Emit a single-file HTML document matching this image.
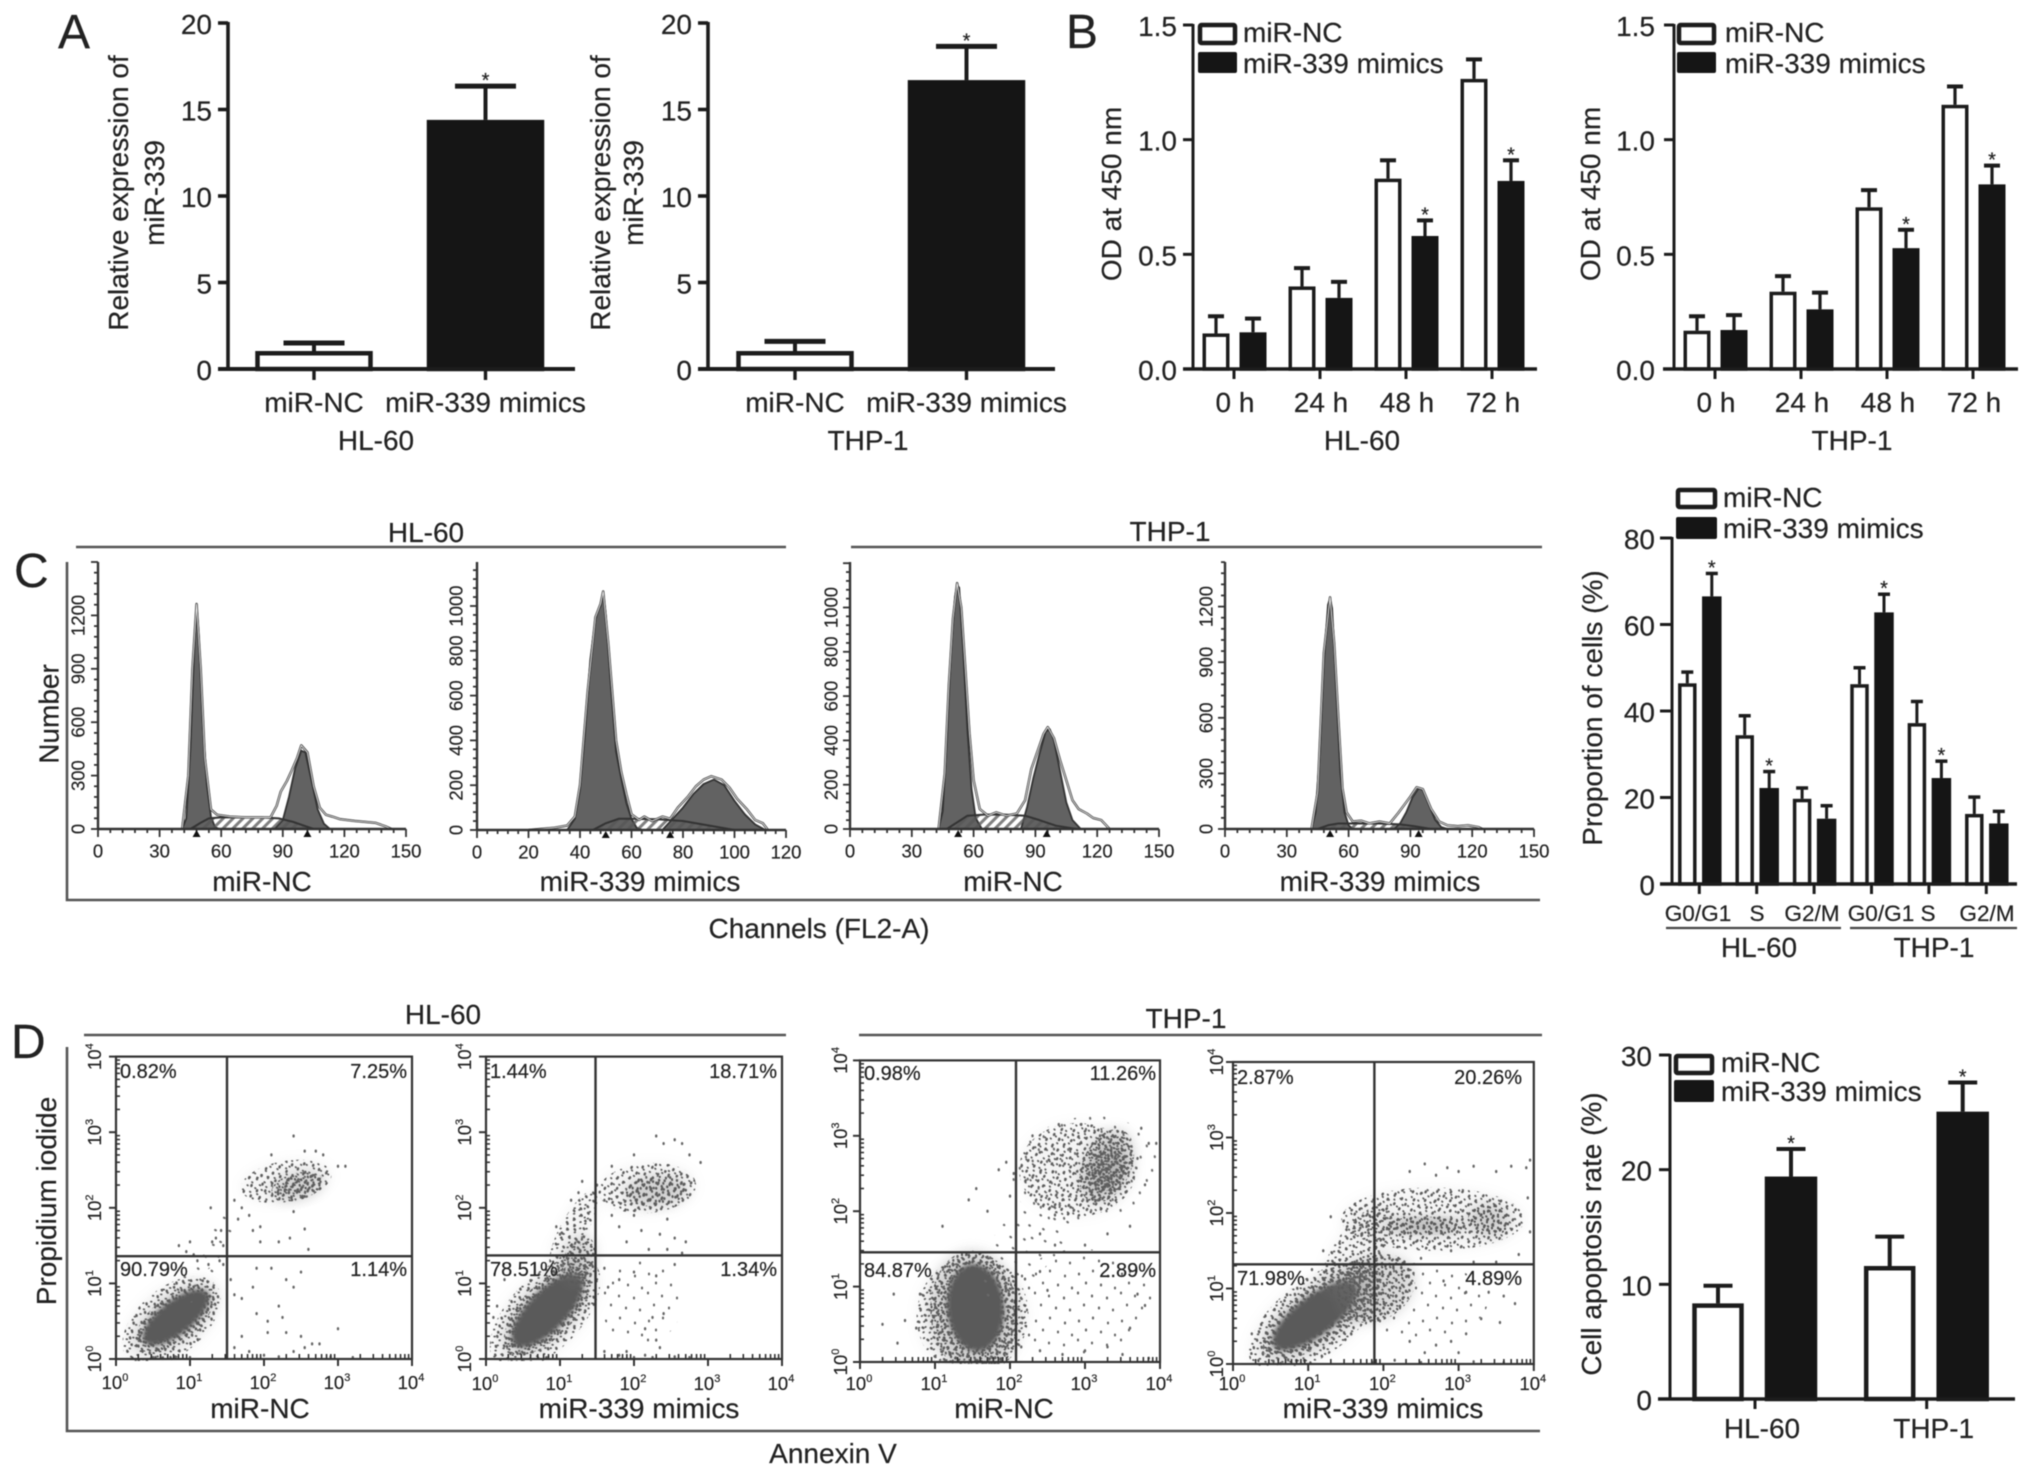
<!DOCTYPE html>
<html lang="en">
<head>
<meta charset="utf-8">
<title>miR-339 mimics in HL-60 and THP-1 cells</title>
<style>
html,body{margin:0;padding:0;background:#fff;}
svg{display:block;font-family:"Liberation Sans",sans-serif;filter:blur(0.6px);}
text{fill:#222;stroke:#222;stroke-width:0.2px;}
</style>
</head>
<body>
<svg id="figure" width="2032" height="1476" viewBox="0 0 2032 1476" xmlns="http://www.w3.org/2000/svg">
<defs>
<pattern id="hatch" width="7" height="7" patternUnits="userSpaceOnUse" patternTransform="rotate(-45)">
<rect x="0" y="0" width="7" height="3" fill="#555" opacity="0.75"/>
</pattern>
<pattern id="speckle" width="37" height="41" patternUnits="userSpaceOnUse">
<g fill="#5a5a5a">
<ellipse cx="2" cy="3" rx="1.1" ry="1.5"/><ellipse cx="9" cy="1" rx="1.1" ry="1.5"/><ellipse cx="15" cy="5" rx="1.1" ry="1.5"/><ellipse cx="23" cy="2" rx="1.1" ry="1.5"/><ellipse cx="30" cy="6" rx="1.1" ry="1.5"/>
<ellipse cx="35" cy="1" rx="1.1" ry="1.5"/><ellipse cx="6" cy="9" rx="1.1" ry="1.5"/><ellipse cx="12" cy="12" rx="1.1" ry="1.5"/><ellipse cx="19" cy="10" rx="1.1" ry="1.5"/><ellipse cx="26" cy="12" rx="1.1" ry="1.5"/>
<ellipse cx="33" cy="13" rx="1.1" ry="1.5"/><ellipse cx="1" cy="16" rx="1.1" ry="1.5"/><ellipse cx="8" cy="18" rx="1.1" ry="1.5"/><ellipse cx="16" cy="17" rx="1.1" ry="1.5"/><ellipse cx="22" cy="19" rx="1.1" ry="1.5"/>
<ellipse cx="29" cy="20" rx="1.1" ry="1.5"/><ellipse cx="35" cy="22" rx="1.1" ry="1.5"/><ellipse cx="4" cy="24" rx="1.1" ry="1.5"/><ellipse cx="11" cy="25" rx="1.1" ry="1.5"/><ellipse cx="18" cy="26" rx="1.1" ry="1.5"/>
<ellipse cx="25" cy="27" rx="1.1" ry="1.5"/><ellipse cx="32" cy="29" rx="1.1" ry="1.5"/><ellipse cx="1" cy="31" rx="1.1" ry="1.5"/><ellipse cx="7" cy="33" rx="1.1" ry="1.5"/><ellipse cx="14" cy="32" rx="1.1" ry="1.5"/>
<ellipse cx="21" cy="34" rx="1.1" ry="1.5"/><ellipse cx="28" cy="35" rx="1.1" ry="1.5"/><ellipse cx="35" cy="36" rx="1.1" ry="1.5"/><ellipse cx="4" cy="38" rx="1.1" ry="1.5"/><ellipse cx="12" cy="39" rx="1.1" ry="1.5"/>
<ellipse cx="18" cy="39" rx="1.1" ry="1.5"/><ellipse cx="25" cy="40" rx="1.1" ry="1.5"/>
</g>
</pattern>
<pattern id="speckle2" href="#speckle" patternTransform="rotate(27) scale(1.13)"></pattern>
<pattern id="speckle3" href="#speckle" patternTransform="rotate(-41) scale(0.87)"></pattern>
<pattern id="sparse" width="43" height="47" patternUnits="userSpaceOnUse">
<g fill="#6a6a6a">
<ellipse cx="4" cy="5" rx="1.1" ry="1.5"/><ellipse cx="18" cy="2" rx="1.1" ry="1.5"/><ellipse cx="33" cy="7" rx="1.1" ry="1.5"/><ellipse cx="11" cy="14" rx="1.1" ry="1.5"/><ellipse cx="26" cy="16" rx="1.1" ry="1.5"/>
<ellipse cx="40" cy="19" rx="1.1" ry="1.5"/><ellipse cx="3" cy="24" rx="1.1" ry="1.5"/><ellipse cx="17" cy="27" rx="1.1" ry="1.5"/><ellipse cx="32" cy="29" rx="1.1" ry="1.5"/><ellipse cx="9" cy="36" rx="1.1" ry="1.5"/>
<ellipse cx="24" cy="39" rx="1.1" ry="1.5"/><ellipse cx="38" cy="41" rx="1.1" ry="1.5"/>
</g>
</pattern>
<filter id="soft" x="-30%" y="-30%" width="160%" height="160%"><feGaussianBlur stdDeviation="2.5"/></filter>
<filter id="wash" x="-30%" y="-30%" width="160%" height="160%"><feGaussianBlur stdDeviation="6"/></filter>
</defs>

<rect x="0" y="0" width="2032" height="1476" fill="#fff"/>

<text x="58" y="48" font-size="48">A</text>
<text x="1066" y="48" font-size="48">B</text>
<text x="14" y="587" font-size="48">C</text>
<text x="11" y="1058" font-size="48">D</text>

<text x="426" y="542" font-size="28" text-anchor="middle">HL-60</text>
<line x1="76" y1="547" x2="786" y2="547" stroke="#555" stroke-width="2.6"/>
<text x="1170" y="541" font-size="28" text-anchor="middle">THP-1</text>
<line x1="851" y1="547" x2="1542" y2="547" stroke="#555" stroke-width="2.6"/>
<path d="M67 562 V900 H1540" fill="none" stroke="#555" stroke-width="2.6"/>
<text transform="translate(58.5 714) rotate(-90)" font-size="28" text-anchor="middle">Number</text>
<text x="819" y="938" font-size="28" text-anchor="middle">Channels (FL2-A)</text>

<text x="443" y="1024" font-size="28" text-anchor="middle">HL-60</text>
<line x1="84" y1="1035" x2="786" y2="1035" stroke="#555" stroke-width="2.6"/>
<text x="1186" y="1028" font-size="28" text-anchor="middle">THP-1</text>
<line x1="859" y1="1035" x2="1542" y2="1035" stroke="#555" stroke-width="2.6"/>
<path d="M67 1047 V1431 H1540" fill="none" stroke="#555" stroke-width="2.6"/>
<text transform="translate(56 1201) rotate(-90)" font-size="28" text-anchor="middle">Propidium iodide</text>
<text x="833" y="1463" font-size="28" text-anchor="middle">Annexin V</text>

<g id="charts"></g>
</svg>

<script>
/* ---------- Panel A data ---------- */
const aCategories = ['miR-NC', 'miR-339 mimics'];
const aTickValues = [0, 5, 10, 15, 20];
const a1Means = [1.04, 14.4];
const a1Errors = [0.46, 1.95];
const a2Means = [1.04, 16.7];
const a2Errors = [0.56, 1.95];

/* ---------- Panel B data ---------- */
const bCategories = ['0 h', '24 h', '48 h', '72 h'];
const bTickValues = [0, 0.5, 1, 1.5];
const bTickLabels = ['0.0', '0.5', '1.0', '1.5'];
const b1ControlMeans = [0.155, 0.36, 0.83, 1.265];
const b1ControlErrors = [0.075, 0.08, 0.08, 0.085];
const b1MimicMeans = [0.16, 0.31, 0.58, 0.82];
const b1MimicErrors = [0.06, 0.07, 0.068, 0.09];
const b1MimicStars = [0, 0, 1, 1];
const b2ControlMeans = [0.167, 0.337, 0.705, 1.152];
const b2ControlErrors = [0.063, 0.068, 0.075, 0.08];
const b2MimicMeans = [0.17, 0.26, 0.527, 0.805];
const b2MimicErrors = [0.065, 0.073, 0.08, 0.082];
const b2MimicStars = [0, 0, 1, 1];

/* ---------- Panel C summary data ---------- */
const cCategories = ['G0/G1', 'S', 'G2/M', 'G0/G1', 'S', 'G2/M'];
const cTickValues = [0, 20, 40, 60, 80];
const cControlMeans = [46.4, 34.4, 19.7, 46.2, 37.2, 16.2];
const cControlErrors = [2.6, 4.5, 2.5, 3.8, 5, 3.9];
const cMimicMeans = [66.5, 22.2, 15.1, 62.8, 24.5, 14];
const cMimicErrors = [5.3, 3.8, 3, 4.2, 3.9, 2.8];
const cMimicStars = [1, 1, 0, 1, 1, 0];

/* ---------- Panel D summary data ---------- */
const dCategories = ['HL-60', 'THP-1'];
const dTickValues = [0, 10, 20, 30];
const dControlMeans = [8.34, 11.6];
const dControlErrors = [1.54, 2.56];
const dMimicMeans = [19.4, 25.06];
const dMimicErrors = [2.4, 2.54];

const legendLabels = ['miR-NC', 'miR-339 mimics'];

/* ---------- Histogram data: [channel, count] ---------- */
const hCh150 = [0, 30, 60, 90, 120, 150];
const hCh120 = [0, 20, 40, 60, 80, 100, 120];
const hCount1200 = [0, 300, 600, 900, 1200];
const hCount1000 = [0, 200, 400, 600, 800, 1000];

const h1G1 = [[41,0],[43,60],[45,450],[47,1050],[48,1264],[49,1100],[51,600],[53,250],[55,70],[57,10],[59,0]];
const h1S = [[45,0],[50,35],[54,60],[60,65],[70,65],[80,65],[88,60],[95,40],[100,20],[105,0]];
const h1G2 = [[86,0],[90,50],[93,180],[96,340],[99,440],[101,430],[104,270],[107,110],[110,30],[113,0]];
const h1Trace = [[41,0],[44,300],[46,900],[48,1264],[50,900],[52,400],[55,110],[58,80],[64,70],[72,65],[84,65],[87,130],[89,210],[92,270],[94,320],[97,400],[99,470],[102,430],[105,240],[108,120],[111,80],[114,70],[118,55],[125,45],[135,35],[140,15],[143,0]];
const h1Markers = [48, 102];

const h2G1 = [[35,0],[38,50],[40,180],[42,440],[44,760],[46,940],[47,980],[48,1000],[49,1065],[50,960],[52,640],[54,350],[56,230],[58,120],[60,50],[62,10],[64,0]];
const h2S = [[45,0],[50,30],[55,50],[60,50],[70,48],[80,40],[90,20],[100,0]];
const h2G2 = [[72,0],[76,50],[80,100],[84,160],[88,205],[92,225],[96,200],[100,130],[104,70],[108,25],[112,0]];
const h2Trace = [[20,0],[30,10],[35,20],[38,60],[40,200],[43,620],[46,950],[48,1010],[49,1065],[51,830],[54,400],[56,260],[58,160],[60,70],[63,45],[65,60],[68,40],[72,60],[75,50],[78,100],[82,150],[85,195],[88,225],[91,240],[95,225],[98,190],[101,140],[105,90],[108,45],[111,30],[113,0]];
const h2Markers = [50, 75];

const h3G1 = [[43,0],[45,80],[47,400],[49,800],[51,1050],[52,1100],[53,1090],[55,800],[57,450],[59,180],[61,50],[64,0]];
const h3S = [[47,0],[52,30],[57,60],[65,65],[75,65],[85,60],[92,40],[100,15],[110,0]];
const h3G2 = [[83,0],[86,100],[89,230],[92,340],[95,440],[97,450],[99,400],[102,260],[105,120],[108,40],[112,0]];
const h3Trace = [[43,0],[46,250],[48,650],[50,950],[52,1110],[54,1000],[56,720],[58,430],[60,220],[63,90],[67,60],[71,75],[76,60],[81,70],[85,130],[88,270],[91,350],[94,430],[96,460],[99,410],[102,310],[105,220],[108,130],[111,90],[115,70],[118,50],[122,40],[124,20],[126,0]];
const h3Markers = [52.5, 95.5];

const h4G1 = [[42,0],[44,90],[46,400],[48,900],[50,1210],[51,1245],[52,1190],[54,750],[56,300],[58,90],[60,20],[62,0]];
const h4S = [[45,0],[50,20],[55,30],[65,30],[75,30],[85,25],[92,15],[100,0]];
const h4G2 = [[82,0],[85,30],[88,90],[91,170],[94,220],[96,210],[99,130],[102,50],[105,10],[108,0]];
const h4Trace = [[42,0],[45,200],[48,950],[51,1250],[53,1000],[55,600],[57,220],[59,90],[62,40],[66,45],[70,30],[75,40],[80,30],[84,85],[87,130],[90,175],[93,225],[96,215],[100,110],[104,40],[108,20],[113,15],[118,20],[123,10],[125,0]];
const h4Markers = [51, 94];

/* ---------- Flow-cytometry data, log10 units ---------- */
const sDecades = [0, 1, 2, 3, 4];

const s1Quadrants = ['0.82%', '7.25%', '90.79%', '1.14%'];
const s1Gate = [1.5, 1.36];
const s1Clusters = [
  [0.75, 0.5, 0.78, 0.44, 40, 'speckle'], [0.8, 0.54, 0.64, 0.3, 38, 'dense'], [0.81, 0.55, 0.54, 0.22, 38, 'core'],
  [1.05, 1.05, 0.35, 0.25, 50, 'sparse'], [1.35, 1.55, 0.45, 0.15, 62, 'sparse'],
  [2.3, 2.35, 0.62, 0.27, 10, 'speckle'], [2.45, 2.28, 0.36, 0.18, 15, 'dense']
];
const s1Points = [[1.0,1.55],[0.85,1.5],[0.95,1.42],[1.05,1.38],[1.1,1.3],[1.25,1.25],[1.3,1.55],[1.35,1.6],[1.42,1.7],[1.45,1.5],[1.4,1.3],[1.45,1.25],[1.28,2.0],[1.6,2.1],[1.65,1.85],[1.7,2.0],[1.8,1.9],[1.85,1.7],[1.95,1.75],[1.95,1.55],[2.2,1.55],[2.35,1.6],[2.55,1.72],[2.6,1.45],[2.4,1.95],[2.4,2.95],[2.55,2.75],[2.7,2.75],[2.8,2.7],[3.0,2.55],[3.1,2.55],[2.1,2.7],[1.55,1.05],[1.6,0.85],[1.7,0.8],[1.85,0.95],[1.9,1.2],[2.1,1.2],[2.2,0.7],[2.3,1.05],[2.4,0.95],[2.5,1.15],[1.9,0.6],[2.05,0.5],[2.05,0.35],[2.3,0.35],[2.25,0.55],[2.5,0.3],[2.75,0.2],[2.65,0.2],[2.4,0.1],[2.55,0.15],[1.7,0.3],[1.6,0.15],[1.8,0.1],[2.0,0.05],[2.2,0.03],[3.0,0.4],[3.2,0.02],[2.9,0.03],[0.5,0.02],[0.8,0.03],[1.0,0.02]];

const s2Quadrants = ['1.44%', '18.71%', '78.51%', '1.34%'];
const s2Gate = [1.48, 1.37];
const s2Clusters = [
  [0.8, 0.6, 0.95, 0.48, 46, 'speckle'], [0.83, 0.64, 0.76, 0.35, 46, 'dense'], [0.83, 0.64, 0.64, 0.26, 46, 'core'],
  [1.18, 1.7, 0.6, 0.18, 62, 'speckle'], [1.25, 1.3, 0.35, 0.2, 70, 'dense'],
  [2.18, 2.26, 0.66, 0.33, 5, 'speckle'], [2.3, 2.22, 0.42, 0.2, 5, 'dense'],
  [2.1, 0.75, 0.55, 0.55, 0, 'sparse']
];
const s2Points = [[0.95,1.75],[1.0,1.65],[1.15,2.1],[1.25,2.2],[1.3,2.35],[1.5,2.3],[1.6,2.1],[1.7,1.9],[1.8,1.75],[1.9,1.55],[2.0,1.9],[2.1,1.7],[2.35,1.65],[2.45,1.85],[2.45,1.45],[2.55,1.6],[2.7,1.55],[2.65,1.4],[2.2,1.45],[2.3,2.95],[2.4,2.85],[2.55,2.9],[2.65,2.85],[2.75,2.7],[2.9,2.6],[1.7,2.55],[2.0,2.7],[1.6,1.2],[1.65,0.95],[1.8,1.05],[2.0,1.15],[2.3,1.1],[2.55,1.25],[2.25,0.55],[2.4,0.6],[2.15,0.4],[2.3,0.25],[2.35,0.15],[2.15,0.05],[1.8,0.05],[1.9,0.1],[1.6,0.1],[2.0,0.02],[2.25,0.02],[2.55,0.03],[2.75,0.02],[0.1,0.55],[0.15,0.7],[0.25,1.05]];

const s3Quadrants = ['0.98%', '11.26%', '84.87%', '2.89%'];
const s3Gate = [2.08, 1.455];
const s3Clusters = [
  [1.5, 0.62, 0.8, 0.74, 80, 'speckle'], [1.52, 0.66, 0.58, 0.82, 4, 'dense'], [1.54, 0.72, 0.38, 0.58, 4, 'core'],
  [3.0, 2.55, 1.0, 0.7, 10, 'sparse'], [2.9, 2.55, 0.78, 0.62, 0, 'speckle'],
  [3.29, 2.6, 0.52, 0.32, 65, 'dense'], [3.3, 2.55, 0.3, 0.22, 65, 'dense'],
  [2.95, 0.8, 0.95, 0.7, 0, 'sparse'], [2.95, 0.78, 0.4, 0.4, 0, 'sparse'],
  [2.2, 1.55, 0.9, 0.4, 50, 'sparse']
];
const s3Points = [[0.3,0.5],[0.5,0.25],[0.6,0.55],[0.45,0.9],[0.8,0.9],[0.75,0.45],[1.1,1.8],[1.3,1.4],[1.45,2.15],[1.55,2.3],[1.7,2.0],[1.85,2.55],[1.95,2.65],[2.05,2.5],[2.0,2.2],[2.3,2.45],[2.3,3.0],[2.65,3.15],[2.95,3.15],[3.2,3.0],[3.35,2.95],[3.5,3.05],[3.75,3.1],[3.85,2.9],[3.7,2.7],[3.8,2.35],[3.95,2.9],[3.6,1.8],[3.3,1.7],[3.0,1.55],[2.6,1.55],[2.4,1.7],[2.6,1.95],[2.2,1.1],[2.4,1.2],[2.5,0.95],[3.6,1.2],[3.7,0.9],[3.8,0.75],[3.6,0.45],[3.3,0.2],[3.0,0.15],[2.7,0.1],[2.4,0.15],[2.15,0.2],[3.5,0.1],[3.85,0.05]];

const s4Quadrants = ['2.87%', '20.26%', '71.98%', '4.89%'];
const s4Gate = [1.88, 1.32];
const s4Clusters = [
  [1.1, 0.62, 1.05, 0.5, 37, 'speckle'], [1.12, 0.64, 0.86, 0.36, 37, 'dense'], [1.09, 0.64, 0.68, 0.26, 37, 'core'],
  [2.66, 1.92, 1.22, 0.42, 0, 'speckle'], [1.65, 1.5, 0.7, 0.3, 55, 'speckle'],
  [2.55, 1.83, 0.55, 0.12, 0, 'dense'], [2.55, 1.83, 0.4, 0.08, 0, 'dense'],
  [3.4, 1.9, 0.28, 0.22, 0, 'dense'],
  [2.44, 0.84, 0.95, 0.5, 0, 'sparse'], [1.9, 1.0, 0.55, 0.42, 30, 'dense']
];
const s4Points = [[2.35,2.55],[2.55,2.65],[2.7,2.5],[2.85,2.6],[3.0,2.55],[3.2,2.62],[3.5,2.55],[3.7,2.62],[3.9,2.6],[3.95,2.7],[3.92,2.2],[3.95,1.75],[3.8,1.45],[3.5,1.35],[3.2,1.35],[2.9,1.5],[2.5,1.4],[2.2,1.4],[1.3,1.95],[1.2,1.5],[1.05,1.25],[2.4,1.2],[2.8,1.1],[3.1,0.95],[3.4,0.95],[3.6,0.9],[3.75,0.8],[3.3,0.6],[3.55,0.55],[3.1,0.4],[2.9,0.3],[2.7,0.25],[2.55,0.15],[2.35,0.3],[3.0,0.15],[2.15,0.05],[1.85,0.02],[2.5,0.02],[3.2,0.03],[3.6,0.02],[0.25,0.4],[0.4,0.15]];

/* ---------- Helpers ---------- */
const SVGNS = 'http://www.w3.org/2000/svg';
const root = document.getElementById('charts');
const INK = '#1c1c1c';
const BAR = '#151515';
const AXIS_FS = 28;

function node(parent, tag, name, attrs) {
  const n = document.createElementNS(SVGNS, tag);
  
  
  for (const k in attrs) n.setAttribute(k, attrs[k]);
  parent.appendChild(n);
  return n;
}
function group(parent, name) { return node(parent, 'g', name, {}); }
function seg(parent, name, x1, y1, x2, y2, sw, color) {
  return node(parent, 'line', name, {x1: x1, y1: y1, x2: x2, y2: y2, stroke: color || INK, 'stroke-width': sw});
}
function label(parent, name, str, cx, cy, fs, anchor) {
  const t = node(parent, 'text', name, {x: cx, y: cy + 0.36 * fs, 'font-size': fs, 'text-anchor': anchor || 'middle'});
  t.textContent = str;
  return t;
}
function vlabel(parent, name, str, cx, cy, fs) {
  const t = node(parent, 'text', name, {transform: 'translate(' + (cx + 0.36 * fs) + ' ' + cy + ') rotate(-90)', 'font-size': fs, 'text-anchor': 'middle'});
  t.textContent = str;
  return t;
}
function linearY(y0, yTop, max) { return function (v) { return y0 - (v / max) * (y0 - yTop); }; }
function bandX(first, step) { return function (i) { return first + i * step; }; }

function yAxis(g, yS, values, labels, o) {
  const top = yS(values[values.length - 1]);
  seg(g, 'y-axis-line', o.x, top - 1, o.x, yS(0), o.sw);
  values.forEach(function (v, i) {
    seg(g, 'y-tick', o.x - o.len, yS(v), o.x, yS(v), o.sw);
    label(g, 'y-tick-label', labels ? labels[i] : String(v), o.labelRight, yS(v) + 1, AXIS_FS, 'end');
  });
}
function xAxis(g, y0, from, to, ticks, sw, len) {
  seg(g, 'x-axis-line', from, y0, to, y0, sw + 0.5);
  ticks.forEach(function (x) { seg(g, 'x-tick', x, y0, x, y0 + len, sw); });
}
function bar(g, name, cx, w, mean, err, filled, star, yS, st) {
  const top = yS(mean), y0 = yS(0), e = yS(mean + err);
  seg(g, name + '-error-stem', cx, top, cx, e, st.stem);
  seg(g, name + '-error-cap', cx - st.cap / 2, e, cx + st.cap / 2, e, st.capSw);
  const inset = st.sw / 2;
  node(g, 'rect', name, {x: cx - w / 2, y: top + inset, width: w, height: Math.max(0, y0 - top - inset), fill: filled ? BAR : '#fff', stroke: filled ? BAR : INK, 'stroke-width': st.sw});
  if (star) {
    const s = node(g, 'text', name + '-significance', {x: cx, y: e + 1, 'font-size': 20, 'text-anchor': 'middle'});
    s.textContent = '*';
  }
}
function legend(g, xBoxL, xBoxR, yA, yB, yC, yD, textX, yT1, yT2) {
  node(g, 'rect', 'legend-swatch-mir-nc', {x: xBoxL + 2, y: yA + 2, width: xBoxR - xBoxL - 4, height: yB - yA - 4, rx: 1.5, fill: '#fff', stroke: INK, 'stroke-width': 4.5});
  node(g, 'rect', 'legend-swatch-mir-339', {x: xBoxL, y: yC, width: xBoxR - xBoxL, height: yD - yC, rx: 2, fill: BAR});
  label(g, 'legend-label-mir-nc', legendLabels[0], textX, yT1, AXIS_FS, 'start');
  label(g, 'legend-label-mir-339', legendLabels[1], textX, yT2, AXIS_FS, 'start');
}

/* ---------- Panel A ---------- */
function drawA(name, means, errors, axisX, firstTick, xEnd, labelRight, t1, t2, caption, captionX) {
  const g = group(root, name);
  const yS = linearY(369, 23, 20);
  const xS = bandX(firstTick, 171.5);
  const st = {stem: 4, cap: 61, capSw: 5, sw: 4.5};
  means.forEach(function (m, i) {
    bar(g, 'bar-' + aCategories[i].replace(/ /g, '-').toLowerCase(), xS(i), 113, m, errors[i], i === 1, i === 1, yS, st);
  });
  yAxis(g, yS, aTickValues, null, {x: axisX, sw: 3.6, len: 10, labelRight: labelRight});
  xAxis(g, 369, axisX - 10, xEnd, [xS(0), xS(1)], 3.4, 11);
  aCategories.forEach(function (c, i) { label(g, 'x-tick-label', c, xS(i), 402, AXIS_FS); });
  label(g, 'x-axis-title', caption, captionX, 440, AXIS_FS);
  vlabel(g, 'y-axis-title', 'Relative expression of', t1, 193, 28);
  vlabel(g, 'y-axis-title-line-2', 'miR-339', t2, 193, 28);
}
drawA('chart-a-hl60', a1Means, a1Errors, 228, 314, 575, 212, 118, 154, 'HL-60', 376);
drawA('chart-a-thp1', a2Means, a2Errors, 708, 795, 1055, 692, 600, 633, 'THP-1', 868);

/* ---------- Panel B ---------- */
function drawB(name, ctrl, ctrlE, mim, mimE, stars, axisX, firstTick, xA, xB, labelRight, titleX, boxL, boxR, textX, caption, captionX) {
  const g = group(root, name);
  const yS = linearY(369, 25, 1.5);
  const xS = bandX(firstTick, 86);
  const st = {stem: 3.2, cap: 16, capSw: 4, sw: 3.5};
  bCategories.forEach(function (c, i) {
    bar(g, 'bar-mir-nc-' + i, xS(i) - 18, 23.5, ctrl[i], ctrlE[i], false, false, yS, st);
    bar(g, 'bar-mir-339-' + i, xS(i) + 19, 23.5, mim[i], mimE[i], true, stars[i] === 1, yS, st);
    label(g, 'x-tick-label', c, xS(i) + 1, 402, AXIS_FS);
  });
  yAxis(g, yS, bTickValues, bTickLabels, {x: axisX, sw: 3, len: 10, labelRight: labelRight});
  xAxis(g, 369, xA, xB, bCategories.map(function (c, i) { return xS(i); }), 3, 10);
  legend(g, boxL, boxR, 23, 45, 52, 73, textX, 32, 63);
  label(g, 'x-axis-title', caption, captionX, 440, AXIS_FS);
  vlabel(g, 'y-axis-title', 'OD at 450 nm', titleX, 194, 28);
}
drawB('chart-b-hl60', b1ControlMeans, b1ControlErrors, b1MimicMeans, b1MimicErrors, b1MimicStars, 1193, 1234, 1183, 1537, 1177, 1111, 1198, 1237, 1243, 'HL-60', 1362);
drawB('chart-b-thp1', b2ControlMeans, b2ControlErrors, b2MimicMeans, b2MimicErrors, b2MimicStars, 1674, 1715, 1663, 2018, 1655, 1590, 1677, 1716, 1725, 'THP-1', 1852);

/* ---------- Panel C summary ---------- */
(function () {
  const g = group(root, 'chart-c-proportion');
  const yS = linearY(884, 538, 80);
  const xS = bandX(1699.3, 57.4);
  const st = {stem: 3, cap: 12, capSw: 3.5, sw: 3.5};
  const centres = [1698, 1757, 1812, 1881, 1928, 1987];
  cCategories.forEach(function (c, i) {
    bar(g, 'bar-mir-nc-' + i, xS(i) - 12, 15, cControlMeans[i], cControlErrors[i], false, false, yS, st);
    bar(g, 'bar-mir-339-' + i, xS(i) + 12.5, 16, cMimicMeans[i], cMimicErrors[i], true, cMimicStars[i] === 1, yS, st);
    label(g, 'x-tick-label', c, centres[i], 913, 22.6);
  });
  yAxis(g, yS, cTickValues, null, {x: 1672, sw: 3, len: 12, labelRight: 1655});
  xAxis(g, 884, 1660, 2017, cCategories.map(function (c, i) { return xS(i); }), 3, 10);
  legend(g, 1676, 1717, 488, 509, 517, 539, 1723, 497, 528);
  seg(g, 'hl60-group-rule', 1666, 928, 1841, 928, 2.2, '#444');
  seg(g, 'thp1-group-rule', 1850, 928, 2017, 928, 2.2, '#444');
  label(g, 'hl60-group-label', 'HL-60', 1759, 947, 28);
  label(g, 'thp1-group-label', 'THP-1', 1934, 947, 28);
  vlabel(g, 'y-axis-title', 'Proportion of cells (%)', 1592, 708, 28);
})();

/* ---------- Panel D summary ---------- */
(function () {
  const g = group(root, 'chart-d-apoptosis');
  const yS = linearY(1399, 1055, 30);
  const xS = bandX(1755, 171.7);
  const st = {stem: 4, cap: 29, capSw: 4, sw: 4.5};
  dCategories.forEach(function (c, i) {
    bar(g, 'bar-mir-nc-' + i, xS(i) - 37, 47, dControlMeans[i], dControlErrors[i], false, false, yS, st);
    bar(g, 'bar-mir-339-' + i, xS(i) + 36, 48, dMimicMeans[i], dMimicErrors[i], true, true, yS, st);
    label(g, 'x-tick-label', c, xS(i) + 7, 1428, AXIS_FS);
  });
  yAxis(g, yS, dTickValues, null, {x: 1670, sw: 3, len: 11, labelRight: 1652});
  xAxis(g, 1399, 1658, 2015, dCategories.map(function (c, i) { return xS(i); }), 3, 10);
  legend(g, 1674, 1714, 1054, 1075, 1080, 1102, 1721, 1062, 1091);
  vlabel(g, 'y-axis-title', 'Cell apoptosis rate (%)', 1591, 1234, 28);
})();

/* ---------- Histograms ---------- */
function drawHistogram(name, o) {
  const g = group(root, name);
  const xS = function (c) { return o.x0 + (c / o.chMax) * (o.x1 - o.x0); };
  const yS = function (c) { return o.y0 - c * o.pxPerCount; };
  function area(points) {
    let d = 'M' + xS(points[0][0]) + ' ' + o.y0;
    points.forEach(function (p) { d += ' L' + xS(p[0]) + ' ' + yS(p[1]); });
    return d + ' L' + xS(points[points.length - 1][0]) + ' ' + o.y0 + ' Z';
  }
  function line(points) {
    return points.map(function (p, i) { return (i ? 'L' : 'M') + xS(p[0]) + ' ' + yS(p[1]); }).join(' ');
  }
  node(g, 'path', 'g1-peak', {d: area(o.g1), fill: '#626262', stroke: '#333', 'stroke-width': 1.8, 'stroke-linejoin': 'round'});
  node(g, 'path', 'g2-peak', {d: area(o.g2), fill: '#626262', stroke: '#333', 'stroke-width': 1.8, 'stroke-linejoin': 'round'});
  node(g, 'path', 's-phase', {d: area(o.s), fill: 'url(#hatch)', stroke: '#333', 'stroke-width': 2, 'stroke-linejoin': 'round'});
  node(g, 'path', 'raw-trace-outline', {d: line(o.trace), fill: 'none', stroke: '#3a3a3a', 'stroke-width': 2.4, 'stroke-linejoin': 'round'});
  node(g, 'path', 'raw-trace', {d: line(o.trace), fill: 'none', stroke: '#fff', 'stroke-width': 0.8, 'stroke-linejoin': 'round'});

  seg(g, 'x-axis-line', o.x0, o.y0, o.x1, o.y0, 2.4, '#333');
  seg(g, 'y-axis-line', o.x0, 562, o.x0, o.y0, 2.4, '#333');
  const minorX = (o.xTicks[1] - o.xTicks[0]) / 5;
  for (let c = 0; c <= o.chMax + 0.01; c += minorX) {
    const major = Math.abs(c / (minorX * 5) - Math.round(c / (minorX * 5))) < 0.01;
    seg(g, major ? 'x-tick' : 'x-minor-tick', xS(c), o.y0, xS(c), o.y0 + (major ? 8 : 4), 1.8, '#333');
  }
  const minorY = (o.yTicks[1] - o.yTicks[0]) / 5;
  for (let c = 0; yS(c) >= 562; c += minorY) {
    const major = Math.abs(c / (minorY * 5) - Math.round(c / (minorY * 5))) < 0.01;
    seg(g, major ? 'y-tick' : 'y-minor-tick', o.x0 - (major ? 7 : 4), yS(c), o.x0, yS(c), 1.8, '#333');
  }
  o.xTicks.forEach(function (c) { label(g, 'x-tick-label', String(c), xS(c), o.y0 + 22, 18.5); });
  o.yTicks.forEach(function (c) { vlabel(g, 'y-tick-label', String(c), o.labelX, yS(c), 18.5); });
  o.markers.forEach(function (c) {
    const x = xS(c);
    node(g, 'path', 'peak-marker', {d: 'M' + (x - 4) + ' ' + (o.y0 + 8) + ' L' + x + ' ' + (o.y0 + 1) + ' L' + (x + 4) + ' ' + (o.y0 + 8) + ' Z', fill: '#111'});
  });
  label(g, 'sample-label', o.sample, o.sampleX, 881, AXIS_FS);
}
drawHistogram('histogram-hl60-mir-nc', {x0: 98, x1: 406, y0: 829, chMax: 150, pxPerCount: 53.4 / 300, g1: h1G1, s: h1S, g2: h1G2, trace: h1Trace, markers: h1Markers, xTicks: hCh150, yTicks: hCount1200, labelX: 78, sample: 'miR-NC', sampleX: 262});
drawHistogram('histogram-hl60-mir-339', {x0: 477, x1: 786, y0: 830, chMax: 120, pxPerCount: 44.8 / 200, g1: h2G1, s: h2S, g2: h2G2, trace: h2Trace, markers: h2Markers, xTicks: hCh120, yTicks: hCount1000, labelX: 456, sample: 'miR-339 mimics', sampleX: 640});
drawHistogram('histogram-thp1-mir-nc', {x0: 850, x1: 1159, y0: 829, chMax: 150, pxPerCount: 44.3 / 200, g1: h3G1, s: h3S, g2: h3G2, trace: h3Trace, markers: h3Markers, xTicks: hCh150, yTicks: hCount1000, labelX: 831, sample: 'miR-NC', sampleX: 1013});
drawHistogram('histogram-thp1-mir-339', {x0: 1225, x1: 1534, y0: 829, chMax: 150, pxPerCount: 55.6 / 300, g1: h4G1, s: h4S, g2: h4G2, trace: h4Trace, markers: h4Markers, xTicks: hCh150, yTicks: hCount1200, labelX: 1206, sample: 'miR-339 mimics', sampleX: 1380});

/* ---------- Scatter plots ---------- */
function drawCluster(plot, c, xS, yS, o) {
  const cx = xS(c[0]), cy = yS(c[1]);
  const base = {cx: cx, cy: cy, rx: c[2] * o.xDec, ry: c[3] * o.yDec, transform: 'rotate(' + (-c[4]) + ' ' + cx + ' ' + cy + ')'};
  function layer(extra) {
    const attrs = Object.assign({}, base, extra);
    return node(plot, 'ellipse', 'event-cluster', attrs);
  }
  if (c[5] === 'core') {
    layer({fill: '#5a5a5a', filter: 'url(#soft)'});
  } else if (c[5] === 'dense') {
    layer({fill: '#777', opacity: 0.28, filter: 'url(#wash)'});
    layer({fill: 'url(#speckle)'});
    layer({fill: 'url(#speckle2)'});
    layer({fill: 'url(#speckle3)'});
  } else if (c[5] === 'speckle') {
    layer({fill: '#999', opacity: 0.1, filter: 'url(#wash)'});
    layer({fill: 'url(#speckle2)'});
    layer({fill: 'url(#speckle3)'});
  } else {
    layer({fill: 'url(#sparse)'});
  }
}
function drawScatter(name, o) {
  const g = group(root, name);
  const xS = function (l) { return o.x0 + l * o.xDec; };
  const yS = function (l) { return o.y0 - l * o.yDec; };
  const left = xS(0), right = xS(4), top = yS(4), bottom = yS(0);
  const clip = node(g, 'clipPath', 'plot-clip', {id: name + '-clip'});
  node(clip, 'rect', 'plot-clip-rect', {x: left, y: top, width: right - left, height: bottom - top + 2});
  const plot = node(g, 'g', 'plot-area', {'clip-path': 'url(#' + name + '-clip)'});
  o.clusters.forEach(function (c) { drawCluster(plot, c, xS, yS, o); });
  o.points.forEach(function (p) {
    node(plot, 'ellipse', 'event-dot', {cx: xS(p[0]), cy: yS(p[1]), rx: 1.2, ry: 1.6, fill: '#666'});
  });
  node(g, 'rect', 'plot-frame', {x: left, y: top, width: right - left, height: bottom - top, fill: 'none', stroke: '#333', 'stroke-width': 2.2});
  seg(g, 'quadrant-gate-vertical', xS(o.gate[0]), top, xS(o.gate[0]), bottom, 2.4, '#333');
  seg(g, 'quadrant-gate-horizontal', left, yS(o.gate[1]), right, yS(o.gate[1]), 2.4, '#333');
  o.decades.forEach(function (d) {
    seg(g, 'x-tick', xS(d), bottom, xS(d), bottom + 7, 2, '#333');
    seg(g, 'y-tick', left - 7, yS(d), left, yS(d), 2, '#333');
    const tx = node(g, 'text', 'x-tick-label', {x: xS(d) - 1, y: o.xLabelY + 7, 'font-size': 18.5, 'text-anchor': 'middle'});
    tx.textContent = '10';
    const sx = node(tx, 'tspan', 'x-tick-exponent', {dy: -8, 'font-size': 11});
    sx.textContent = String(d);
    const ty = node(g, 'text', 'y-tick-label', {transform: 'translate(' + (o.yLabelX + 7) + ' ' + yS(d) + ') rotate(-90)', 'font-size': 18.5, 'text-anchor': 'middle'});
    ty.textContent = '10';
    const sy = node(ty, 'tspan', 'y-tick-exponent', {dy: -8, 'font-size': 11});
    sy.textContent = String(d);
    if (d < 4) {
      [2, 3, 4, 5, 6, 7, 8, 9].forEach(function (m) {
        const l = d + Math.log10(m);
        seg(g, 'x-minor-tick', xS(l), bottom - 5, xS(l), bottom, 1.6, '#333');
        seg(g, 'y-minor-tick', left, yS(l), left + 4, yS(l), 1.6, '#333');
      });
    }
  });
  label(g, 'quadrant-upper-left', o.quadrants[0], left + 4, o.labelY1, 20, 'start');
  label(g, 'quadrant-upper-right', o.quadrants[1], o.labelRight, o.labelY1, 20, 'end');
  label(g, 'quadrant-lower-left', o.quadrants[2], left + 4, o.labelY2, 20, 'start');
  label(g, 'quadrant-lower-right', o.quadrants[3], o.labelRight, o.labelY2, 20, 'end');
  label(g, 'sample-label', o.sample, o.sampleX, 1408, AXIS_FS);
}
drawScatter('scatter-hl60-mir-nc', {x0: 116, xDec: 74, y0: 1359, yDec: 75.6, gate: s1Gate, clusters: s1Clusters, points: s1Points, decades: sDecades, quadrants: s1Quadrants, xLabelY: 1382, yLabelX: 94, labelRight: 407, labelY1: 1071, labelY2: 1269, sample: 'miR-NC', sampleX: 260});
drawScatter('scatter-hl60-mir-339', {x0: 486, xDec: 74, y0: 1359, yDec: 75.6, gate: s2Gate, clusters: s2Clusters, points: s2Points, decades: sDecades, quadrants: s2Quadrants, xLabelY: 1383, yLabelX: 464, labelRight: 777, labelY1: 1071, labelY2: 1269, sample: 'miR-339 mimics', sampleX: 639});
drawScatter('scatter-thp1-mir-nc', {x0: 860, xDec: 75, y0: 1362, yDec: 75.4, gate: s3Gate, clusters: s3Clusters, points: s3Points, decades: sDecades, quadrants: s3Quadrants, xLabelY: 1383, yLabelX: 840, labelRight: 1156, labelY1: 1073, labelY2: 1270, sample: 'miR-NC', sampleX: 1004});
drawScatter('scatter-thp1-mir-339', {x0: 1233, xDec: 75.2, y0: 1364, yDec: 75.5, gate: s4Gate, clusters: s4Clusters, points: s4Points, decades: sDecades, quadrants: s4Quadrants, xLabelY: 1383, yLabelX: 1216, labelRight: 1522, labelY1: 1077, labelY2: 1278, sample: 'miR-339 mimics', sampleX: 1383});
</script>
</body>
</html>
